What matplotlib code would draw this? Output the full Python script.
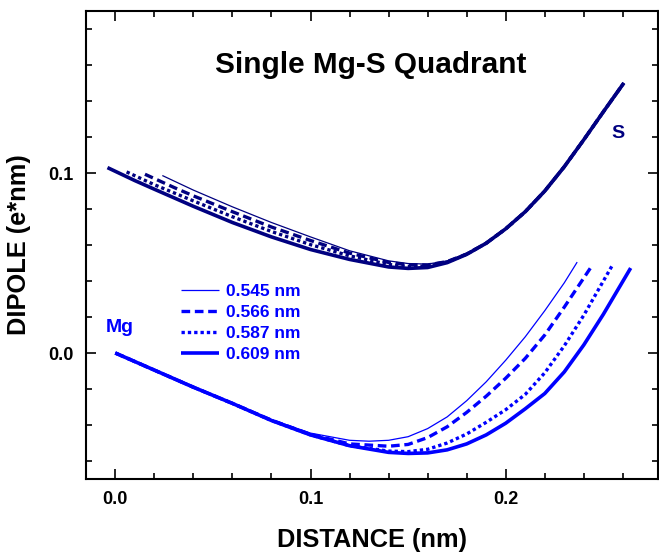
import matplotlib
matplotlib.use("Agg")
import matplotlib.pyplot as plt
from matplotlib.ticker import MultipleLocator, FormatStrFormatter

plt.rcParams['font.family'] = ['Liberation Sans', 'DejaVu Sans']
plt.rcParams['font.weight'] = 'bold'

labels = ["0.545 nm", "0.566 nm", "0.587 nm", "0.609 nm"]

# ---- lower (Mg) curves ----
mg_x_545 = [0.00, 0.02, 0.04, 0.06, 0.08, 0.10, 0.12, 0.13, 0.14, 0.15, 0.16, 0.17, 0.18, 0.19, 0.20, 0.21, 0.22, 0.23, 0.2366]
mg_y_545 = [0.000, -0.0095, -0.019, -0.028, -0.037, -0.0445, -0.0485, -0.049, -0.0485, -0.0465, -0.042, -0.0355, -0.0265, -0.016, -0.004, 0.009, 0.0235, 0.039, 0.0505]

mg_x_566 = [0.00, 0.02, 0.04, 0.06, 0.08, 0.10, 0.12, 0.14, 0.15, 0.16, 0.17, 0.18, 0.19, 0.20, 0.21, 0.22, 0.23, 0.2443]
mg_y_566 = [0.000, -0.0095, -0.019, -0.028, -0.0373, -0.0452, -0.0505, -0.0518, -0.0508, -0.047, -0.041, -0.033, -0.024, -0.014, -0.003, 0.010, 0.0255, 0.0487]

mg_x_587 = [0.00, 0.02, 0.04, 0.06, 0.08, 0.10, 0.12, 0.14, 0.15, 0.16, 0.17, 0.18, 0.19, 0.20, 0.21, 0.22, 0.23, 0.24, 0.2546]
mg_y_587 = [0.000, -0.0095, -0.019, -0.028, -0.0375, -0.0455, -0.0515, -0.0545, -0.0548, -0.0535, -0.050, -0.045, -0.0385, -0.0315, -0.023, -0.011, 0.004, 0.021, 0.0487]

mg_x_609 = [0.00, 0.02, 0.04, 0.06, 0.08, 0.10, 0.12, 0.14, 0.15, 0.16, 0.17, 0.18, 0.19, 0.20, 0.21, 0.22, 0.23, 0.24, 0.25, 0.264]
mg_y_609 = [0.000, -0.0095, -0.019, -0.028, -0.0375, -0.0455, -0.0515, -0.0552, -0.0558, -0.0555, -0.0538, -0.0505, -0.0455, -0.039, -0.031, -0.0225, -0.0105, 0.0045, 0.0215, 0.0472]

# ---- upper (S) curves ----
s_x_545 = [0.0241, 0.04, 0.06, 0.08, 0.10, 0.12, 0.14, 0.15, 0.16, 0.17, 0.18, 0.19, 0.20, 0.21, 0.22, 0.23, 0.24, 0.25, 0.2605]
s_y_545 = [0.0986, 0.0905, 0.0812, 0.0725, 0.0645, 0.0568, 0.0512, 0.0497, 0.0494, 0.0512, 0.0552, 0.061, 0.069, 0.0785, 0.090, 0.1035, 0.1185, 0.134, 0.150]

s_x_566 = [0.0152, 0.03, 0.04, 0.06, 0.08, 0.10, 0.12, 0.14, 0.15, 0.16, 0.17, 0.18, 0.19, 0.20, 0.21, 0.22, 0.23, 0.24, 0.25, 0.2605]
s_y_566 = [0.0993, 0.092, 0.0873, 0.0785, 0.070, 0.0625, 0.0555, 0.0503, 0.049, 0.0489, 0.0508, 0.055, 0.061, 0.069, 0.0785, 0.090, 0.1035, 0.1185, 0.134, 0.150]

s_x_587 = [0.0058, 0.02, 0.04, 0.06, 0.08, 0.10, 0.12, 0.14, 0.15, 0.16, 0.17, 0.18, 0.19, 0.20, 0.21, 0.22, 0.23, 0.24, 0.25, 0.2605]
s_y_587 = [0.1006, 0.0935, 0.0845, 0.0757, 0.0675, 0.0602, 0.054, 0.0492, 0.0481, 0.0483, 0.0505, 0.0549, 0.061, 0.069, 0.0785, 0.090, 0.1035, 0.1185, 0.134, 0.150]

s_x_609 = [-0.004, 0.01, 0.02, 0.04, 0.06, 0.08, 0.10, 0.12, 0.14, 0.15, 0.16, 0.17, 0.18, 0.19, 0.20, 0.21, 0.22, 0.23, 0.24, 0.25, 0.2605]
s_y_609 = [0.103, 0.0958, 0.091, 0.0815, 0.0725, 0.0645, 0.0575, 0.052, 0.0478, 0.047, 0.0475, 0.0502, 0.0548, 0.061, 0.069, 0.0785, 0.090, 0.1035, 0.1185, 0.134, 0.150]

BLUE = "#0000FF"
NAVY = "#000080"

fig = plt.figure(figsize=(6.59, 5.52), dpi=100)
ax = fig.add_axes([86/659, 1 - 479/552, (658-86)/659, (479-11)/552])

styles = [
    dict(lw=0.9, ls='-'),
    dict(lw=2.4, ls=(0, (2.6, 1.4))),
    dict(lw=2.4, ls=(0, (1.0, 0.9))),
    dict(lw=2.6, ls='-'),
]

s_series = [(s_x_545, s_y_545), (s_x_566, s_y_566), (s_x_587, s_y_587), (s_x_609, s_y_609)]
mg_series = [(mg_x_545, mg_y_545), (mg_x_566, mg_y_566), (mg_x_587, mg_y_587), (mg_x_609, mg_y_609)]

for (xs, ys), st in zip(s_series, styles):
    ax.plot(xs, ys, color=NAVY, solid_capstyle='butt', dash_capstyle='butt', **st)

handles = []
for (xs, ys), st, lab in zip(mg_series, styles, labels):
    h, = ax.plot(xs, ys, color=BLUE, label=lab, solid_capstyle='butt', dash_capstyle='butt', **st)
    handles.append(h)

ax.set_xlim(-0.015, 0.278)
ax.set_ylim(-0.070, 0.190)

ax.xaxis.set_major_locator(MultipleLocator(0.1))
ax.xaxis.set_minor_locator(MultipleLocator(0.02))
ax.yaxis.set_major_locator(MultipleLocator(0.1))
ax.yaxis.set_minor_locator(MultipleLocator(0.02))
ax.xaxis.set_major_formatter(FormatStrFormatter('%.1f'))
ax.yaxis.set_major_formatter(FormatStrFormatter('%.1f'))

ax.tick_params(which='both', direction='in', top=True, right=True, width=1.2)
ax.tick_params(which='major', length=7.5, labelsize=13, pad=9)
ax.tick_params(which='minor', length=4)
for lab in ax.get_xticklabels() + ax.get_yticklabels():
    lab.set_fontweight('bold')
for sp in ax.spines.values():
    sp.set_linewidth(1.5)

ax.set_xlabel("DISTANCE (nm)", fontsize=18.3, fontweight='bold', labelpad=14)
ax.set_ylabel("DIPOLE (e*nm)", fontsize=18.3, fontweight='bold', labelpad=12)

ax.text(0.1306, 0.160, "Single Mg-S Quadrant", fontsize=21.4, fontweight='bold',
        ha='center', va='center', color='black')
ax.text(0.0024, 0.0143, "Mg", fontsize=14, fontweight='bold', ha='center', va='center', color=BLUE)
ax.text(0.2575, 0.1219, "S", fontsize=14, fontweight='bold', ha='center', va='center', color=NAVY)

leg = ax.legend(handles=handles, loc='upper left', bbox_to_anchor=(181/659, 1 - 284/552),
                bbox_transform=fig.transFigure, frameon=False, fontsize=12.5,
                handlelength=2.2, handletextpad=0.4, labelspacing=0.33,
                borderpad=0, borderaxespad=0)
for t in leg.get_texts():
    t.set_color(BLUE)
    t.set_fontweight('bold')

fig.savefig("out.png", dpi=100)
